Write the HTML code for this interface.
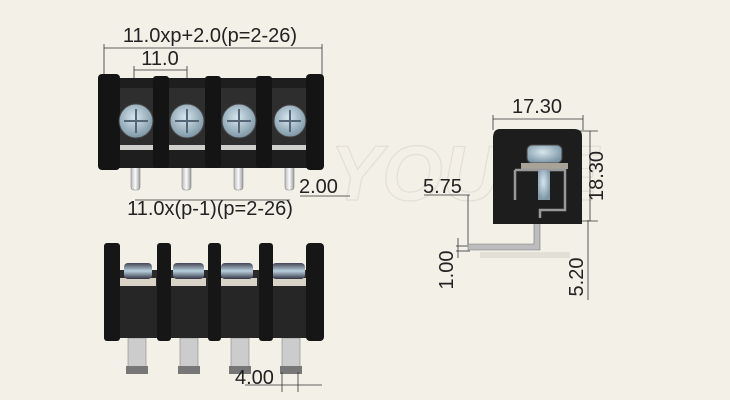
<!DOCTYPE html>
<html><head><style>
html,body{margin:0;padding:0;background:#f3f0e8;}
svg{display:block;font-family:"Liberation Sans",sans-serif;}
</style></head><body>
<svg width="730" height="400" viewBox="0 0 730 400" xmlns="http://www.w3.org/2000/svg">
<defs>
<radialGradient id="scr" cx="45%" cy="40%" r="60%"><stop offset="0" stop-color="#d6e6ee"/><stop offset="1" stop-color="#7e97a6"/></radialGradient>
<linearGradient id="pin" x1="0" x2="1"><stop offset="0" stop-color="#bbb"/><stop offset=".5" stop-color="#fafafa"/><stop offset="1" stop-color="#999"/></linearGradient>
<linearGradient id="nut" x1="0" y1="0" x2="0" y2="1"><stop offset="0" stop-color="#445"/><stop offset=".5" stop-color="#b9d0dc"/><stop offset="1" stop-color="#334"/></linearGradient>
</defs>
<rect width="730" height="400" fill="#f3f0e8"/>
<text x="330" y="200" font-size="78" font-style="italic" font-weight="bold" fill="none" stroke="#e3dfd6" stroke-width="1.2">YOULE</text>

<!-- TOP VIEW -->
<g stroke="#333" stroke-width="0.8" fill="none">
<line x1="104" y1="48" x2="322" y2="48"/><line x1="104" y1="44" x2="104" y2="78"/><line x1="322" y1="44" x2="322" y2="78"/>
<line x1="134" y1="70" x2="187" y2="70"/><line x1="134" y1="66" x2="134" y2="82"/><line x1="187" y1="66" x2="187" y2="82"/>
<line x1="135" y1="200" x2="290" y2="200"/>
<line x1="300" y1="196" x2="350" y2="196"/>
</g>
<text x="210" y="42" font-size="20" text-anchor="middle" fill="#222">11.0xp+2.0(p=2-26)</text>
<text x="160" y="65" font-size="20" text-anchor="middle" fill="#222">11.0</text>
<g fill="url(#pin)" stroke="#888" stroke-width="0.6">
<rect x="131" y="165" width="9" height="25" rx="3"/><rect x="182" y="165" width="9" height="25" rx="3"/>
<rect x="234" y="165" width="9" height="25" rx="3"/><rect x="285" y="165" width="9" height="25" rx="3"/>
</g>
<rect x="102" y="78" width="220" height="90" fill="#1e1e1e"/>
<rect x="118" y="88" width="190" height="60" fill="#2e2e2e"/>
<g fill="#141414">
<rect x="98" y="74" width="22" height="96" rx="4"/><rect x="153" y="76" width="16" height="92" rx="3"/>
<rect x="205" y="76" width="16" height="92" rx="3"/><rect x="256" y="76" width="16" height="92" rx="3"/>
<rect x="306" y="74" width="18" height="96" rx="4"/>
</g>
<g fill="#cfd0cc"><rect x="120" y="145" width="33" height="5"/><rect x="169" y="145" width="36" height="5"/><rect x="221" y="145" width="35" height="5"/><rect x="272" y="145" width="34" height="5"/></g>
<g stroke="#444" stroke-width="1">
<circle cx="136" cy="121" r="17" fill="url(#scr)"/><circle cx="187" cy="121" r="17" fill="url(#scr)"/>
<circle cx="239" cy="121" r="17" fill="url(#scr)"/><circle cx="290" cy="121" r="16" fill="url(#scr)"/>
</g>
<g stroke="#567" stroke-width="2">
<path d="M124 121h24M136 109v24M175 121h24M187 109v24M227 121h24M239 109v24M279 121h22M290 110v22"/>
</g>
<text x="299" y="193" font-size="20" fill="#222">2.00</text>
<text x="210" y="215" font-size="20" text-anchor="middle" fill="#222">11.0x(p-1)(p=2-26)</text>

<!-- BOTTOM VIEW -->
<g fill="#ccc" stroke="#888" stroke-width=".6">
<rect x="128" y="338" width="18" height="32"/><rect x="180" y="338" width="18" height="32"/>
<rect x="231" y="338" width="18" height="32"/><rect x="282" y="338" width="18" height="32"/>
</g>
<g fill="#777"><rect x="126" y="366" width="22" height="8"/><rect x="178" y="366" width="22" height="8"/><rect x="229" y="366" width="22" height="8"/><rect x="280" y="366" width="22" height="8"/></g>
<rect x="104" y="270" width="218" height="68" fill="#2a2a2a"/>
<g fill="#d8d3c6"><rect x="120" y="278" width="36" height="10"/><rect x="170" y="278" width="36" height="10"/><rect x="221" y="278" width="36" height="10"/><rect x="272" y="278" width="36" height="10"/></g>
<g fill="url(#nut)"><rect x="124" y="263" width="28" height="16" rx="4"/><rect x="173" y="263" width="31" height="16" rx="4"/><rect x="221" y="263" width="32" height="16" rx="4"/><rect x="272" y="263" width="33" height="16" rx="4"/></g>
<rect x="104" y="286" width="218" height="52" fill="#262626"/>
<g fill="#161616">
<rect x="104" y="243" width="16" height="98" rx="3"/><rect x="157" y="243" width="14" height="98" rx="3"/>
<rect x="208" y="243" width="13" height="98" rx="3"/><rect x="259" y="243" width="14" height="98" rx="3"/>
<rect x="306" y="243" width="18" height="98" rx="4"/>
</g>
<g stroke="#333" stroke-width=".8"><line x1="245" y1="385" x2="322" y2="385"/><line x1="282" y1="372" x2="282" y2="392"/><line x1="298" y1="372" x2="298" y2="392"/></g>
<text x="235" y="384" font-size="20" fill="#222">4.00</text>

<!-- SIDE VIEW -->
<g stroke="#333" stroke-width=".8" fill="none">
<line x1="493" y1="119" x2="583" y2="119"/><line x1="493" y1="115" x2="493" y2="130"/><line x1="583" y1="115" x2="583" y2="130"/>
<line x1="590" y1="131" x2="590" y2="221"/><line x1="578" y1="131" x2="598" y2="131"/><line x1="578" y1="221" x2="598" y2="221"/>
<line x1="424" y1="195" x2="470" y2="195"/><line x1="468" y1="195" x2="468" y2="245"/>
<line x1="458" y1="238" x2="458" y2="258"/><line x1="456" y1="246" x2="470" y2="246"/><line x1="456" y1="251" x2="470" y2="251"/>
<line x1="588" y1="220" x2="588" y2="300"/>
</g>
<text x="537" y="113" font-size="20" text-anchor="middle" fill="#222">17.30</text>
<text x="423" y="193" font-size="20" fill="#222">5.75</text>
<text transform="translate(603,176) rotate(-90)" font-size="20" text-anchor="middle" fill="#222">18.30</text>
<text transform="translate(453,270) rotate(-90)" font-size="20" text-anchor="middle" fill="#222">1.00</text>
<text transform="translate(583,277) rotate(-90)" font-size="20" text-anchor="middle" fill="#222">5.20</text>
<path d="M468 244 H534 V218 H540 V250 H468 Z" fill="#bdbdbd" stroke="#777" stroke-width=".6"/>
<rect x="480" y="252" width="90" height="6" fill="#e2dfd7"/>
<path d="M500 129 Q493 129 493 138 V224 H582 V136 Q582 129 574 129 Z" fill="#1d1d1d"/>
<rect x="527" y="145" width="35" height="18" rx="5" fill="url(#scr)" stroke="#444"/>
<rect x="521" y="163" width="47" height="6" fill="#a9a397"/>
<path d="M515 170 H565 V210 H540 V218" fill="none" stroke="#999" stroke-width="2.5"/>
<path d="M515 170 V200" stroke="#999" stroke-width="2.5"/>
<rect x="538" y="170" width="12" height="30" fill="url(#scr)"/>
</svg>
</body></html>
